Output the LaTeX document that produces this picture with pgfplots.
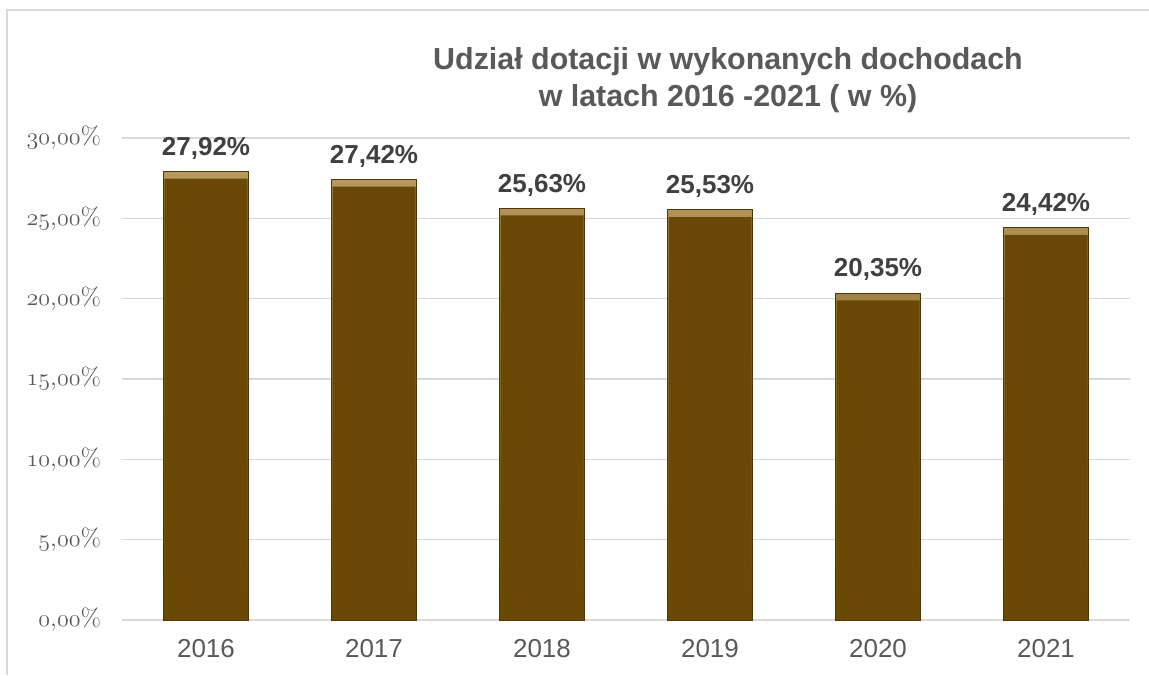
\documentclass[border=0pt]{standalone}
\usepackage{pgfplots}
\pgfplotsset{compat=1.18}
\usepackage{pgfplotstable}
\usepackage{fontspec}
\newfontfamily\arial{Liberation Sans}
% old-style figures from the Latin Modern math italic font (OML encoding)
\newcommand\osf[1]{\mbox{\usefont{OML}{lmm}{m}{it}#1}}
\definecolor{barc}{RGB}{106,73,6}
\definecolor{bevel}{RGB}{165,128,58}
\definecolor{gridc}{RGB}{217,217,217}
\definecolor{txt}{RGB}{89,89,89}
\definecolor{lbl}{RGB}{64,64,64}

\pgfplotstableread{
x v
0 27.92
1 27.42
2 25.63
3 25.53
4 20.35
5 24.42
}\dotacje

\begin{document}
\begin{tikzpicture}
\useasboundingbox (-61pt,-27.5pt) rectangle (513.5pt,310pt);
\draw[gridc, line width=1pt] (-57.5pt,-27.5pt) -- (-57.5pt,305pt) -- (513.5pt,305pt);
\begin{axis}[
  scale only axis,
  width=504pt, height=241pt,
  xmin=-0.5, xmax=5.5, ymin=0, ymax=30,
  clip=false,
  axis line style={draw=none},
  major tick length=0pt,
  xtick={0,...,5},
  xticklabels={2016,2017,2018,2019,2020,2021},
  ytick={0,5,...,30},
  yticklabels={{\osf{0},\osf{00}\%},{\osf{5},\osf{00}\%},{\osf{10},\osf{00}\%},
    {\osf{15},\osf{00}\%},{\osf{20},\osf{00}\%},{\osf{25},\osf{00}\%},{\osf{30},\osf{00}\%}},
  ymajorgrids,
  grid style={gridc, line width=0.8pt},
  xticklabel style={font=\arial\fontsize{13}{15}\selectfont, text=txt, yshift=-6pt},
  yticklabel style={font=\fontsize{12.5}{14}\selectfont, text=txt, xshift=-7pt},
]
\draw[gridc, line width=1.3pt] (axis cs:-0.5,0) -- (axis cs:5.5,0);
\addplot[ybar, bar shift=0pt, bar width=42.5pt, top color=bevel!80!white, bottom color=barc,
  draw=barc!75!black, line width=0.4pt,
  nodes near coords={\pgfmathprintnumber[fixed, fixed zerofill, precision=2, use comma, assume math mode=true]{\pgfplotspointmeta}\%},
  nodes near coords style={font=\arial\bfseries\fontsize{13}{15}\selectfont, text=lbl, anchor=south, yshift=2.5pt}]
  table[x=x, y=v] {\dotacje};
\addplot[ybar, bar shift=0pt, bar width=41.5pt, fill=barc, draw=none]
  table[x=x, y expr=\thisrow{v}-0.45] {\dotacje};
\end{axis}
\node[align=center, text=txt, font=\arial\bfseries\fontsize{15.2}{18.5}\selectfont]
  at (303pt,270pt) {Udział dotacji w wykonanych dochodach\\w latach 2016 -2021 ( w \%)};
\end{tikzpicture}
\end{document}
